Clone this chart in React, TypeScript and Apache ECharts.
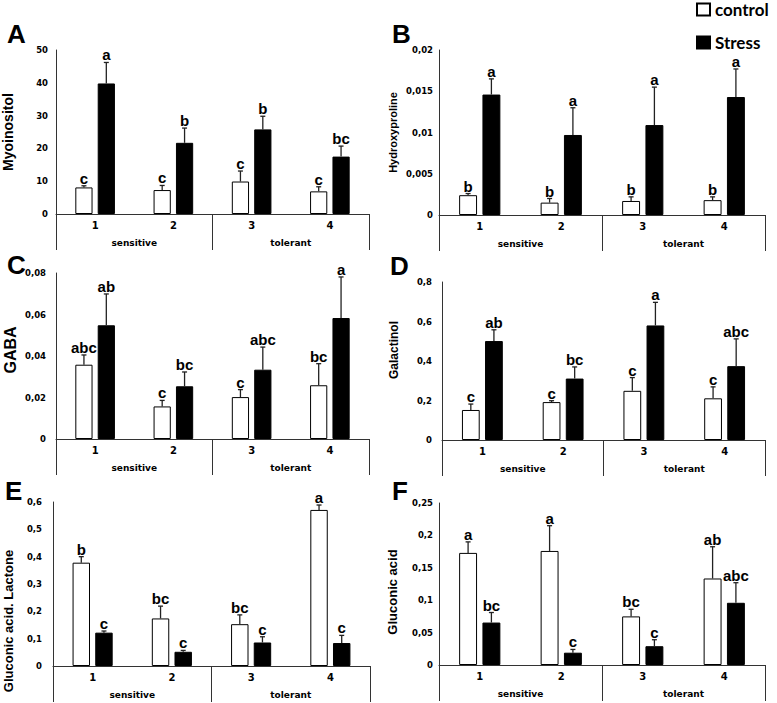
import React, { useEffect, useRef } from "react";
import * as echarts from "echarts";

// ---- categories ----
const genotypes = ["1", "2", "3", "4"];
const groups = ["sensitive", "tolerant"];

// ---- A: Myoinositol ----
const myoControl = [8.1, 7.3, 9.9, 6.9];
const myoControlSd = [0.5, 1.4, 3.2, 1.4];
const myoStress = [39.8, 21.7, 25.8, 17.5];
const myoStressSd = [6.4, 4.5, 4.0, 3.2];
const myoControlLetters = ["c", "c", "c", "c"];
const myoStressLetters = ["a", "b", "b", "bc"];

// ---- B: Hydroxyproline ----
const hypControl = [0.0024, 0.0015, 0.0017, 0.0018];
const hypControlSd = [0.0002, 0.0005, 0.0005, 0.0004];
const hypStress = [0.0146, 0.0097, 0.0109, 0.0143];
const hypStressSd = [0.0019, 0.0033, 0.0046, 0.0034];
const hypControlLetters = ["b", "b", "b", "b"];
const hypStressLetters = ["a", "a", "a", "a"];

// ---- C: GABA ----
const gabaControl = [0.0358, 0.0157, 0.0202, 0.0259];
const gabaControlSd = [0.0047, 0.0029, 0.0036, 0.0104];
const gabaStress = [0.0548, 0.0254, 0.0334, 0.0583];
const gabaStressSd = [0.0151, 0.0069, 0.0109, 0.0198];
const gabaControlLetters = ["abc", "c", "c", "bc"];
const gabaStressLetters = ["ab", "bc", "abc", "a"];

// ---- D: Galactinol ----
const galControl = [0.152, 0.192, 0.249, 0.211];
const galControlSd = [0.03, 0.007, 0.067, 0.058];
const galStress = [0.501, 0.311, 0.58, 0.374];
const galStressSd = [0.057, 0.059, 0.117, 0.138];
const galControlLetters = ["c", "c", "c", "c"];
const galStressLetters = ["ab", "bc", "a", "abc"];

// ---- E: Gluconic acid. Lactone ----
const glcLacControl = [0.378, 0.174, 0.153, 0.571];
const glcLacControlSd = [0.022, 0.045, 0.034, 0.018];
const glcLacStress = [0.122, 0.052, 0.086, 0.084];
const glcLacStressSd = [0.006, 0.005, 0.021, 0.028];
const glcLacControlLetters = ["b", "bc", "bc", "a"];
const glcLacStressLetters = ["c", "c", "c", "c"];

// ---- F: Gluconic acid ----
const glcControl = [0.173, 0.176, 0.075, 0.1335];
const glcControlSd = [0.017, 0.039, 0.011, 0.049];
const glcStress = [0.0655, 0.019, 0.029, 0.096];
const glcStressSd = [0.0155, 0.005, 0.01, 0.031];
const glcControlLetters = ["a", "a", "bc", "ab"];
const glcStressLetters = ["bc", "c", "c", "abc"];

// ---- y-axis scales ----
const yMax = [50, 0.02, 0.08, 0.8, 0.6, 0.25];
const yStep = [10, 0.005, 0.02, 0.2, 0.1, 0.05];
const yNames = ["Myoinositol", "Hydroxyproline", "GABA", "Galactinol", "Gluconic acid. Lactone", "Gluconic acid"];
const panelLetters = ["A", "B", "C", "D", "E", "F"];

const panelData = [
  { c: myoControl, cs: myoControlSd, s: myoStress, ss: myoStressSd, cl: myoControlLetters, sl: myoStressLetters },
  { c: hypControl, cs: hypControlSd, s: hypStress, ss: hypStressSd, cl: hypControlLetters, sl: hypStressLetters },
  { c: gabaControl, cs: gabaControlSd, s: gabaStress, ss: gabaStressSd, cl: gabaControlLetters, sl: gabaStressLetters },
  { c: galControl, cs: galControlSd, s: galStress, ss: galStressSd, cl: galControlLetters, sl: galStressLetters },
  { c: glcLacControl, cs: glcLacControlSd, s: glcLacStress, ss: glcLacStressSd, cl: glcLacControlLetters, sl: glcLacStressLetters },
  { c: glcControl, cs: glcControlSd, s: glcStress, ss: glcStressSd, cl: glcControlLetters, sl: glcStressLetters },
];

// ---- layout (positions / styles) ----
const layout = [
  { left: 56, top: 50, width: 313, height: 164, nameSize: 14, nameGap: 41, labelMargin: 8, namePad: [0, 0, 0, 0], lx: 7, ly: 34 },
  { left: 439, top: 50, width: 326, height: 165, nameSize: 11, nameGap: 41, labelMargin: 6, namePad: [0, 0, 0, 0], lx: 392, ly: 34 },
  { left: 56, top: 273, width: 313, height: 166, nameSize: 16, nameGap: 38, labelMargin: 10, namePad: [0, 0, 0, 12], lx: 7, ly: 265 },
  { left: 442, top: 282, width: 323, height: 158, nameSize: 12, nameGap: 42, labelMargin: 10, namePad: [0, 0, 0, 22], lx: 390, ly: 266 },
  { left: 53, top: 502, width: 317, height: 164, nameSize: 13, nameGap: 38, labelMargin: 11, namePad: [0, 74, 0, 0], lx: 5, ly: 491 },
  { left: 439, top: 503, width: 326, height: 162, nameSize: 13, nameGap: 40, labelMargin: 6, namePad: [0, 16, 0, 0], lx: 392, ly: 491 },
];

const BAR_W = 0.22;
const BAR_GAP = 0.3;
const AXIS_COLOR = "#333";

const fmt = (v: number) => (v === 0 ? "0" : String(parseFloat(v.toPrecision(6))).replace(".", ","));

function makeErr(means: number[], sds: number[], letters: string[], sign: number) {
  return (params: any, api: any) => {
    const i = params.dataIndex;
    const base = api.coord([i, means[i]]);
    const top = api.coord([i, means[i] + sds[i]]);
    const cw = api.size([1, 0])[0];
    const bw = cw * BAR_W;
    const cx = base[0] + (sign * bw * (1 + BAR_GAP)) / 2;
    const ls = { stroke: "#222", lineWidth: 1.3 };
    return {
      type: "group",
      children: [
        { type: "line", shape: { x1: cx, y1: base[1], x2: cx, y2: top[1] }, style: ls },
        { type: "line", shape: { x1: cx - 2.5, y1: top[1], x2: cx + 2.5, y2: top[1] }, style: ls },
        {
          type: "text",
          style: {
            text: letters[i],
            x: cx,
            y: top[1] - 7.5,
            align: "center",
            verticalAlign: "middle",
            lineHeight: 14,
            font: 'bold 15px "Liberation Sans", Arial, sans-serif',
            fill: "#000",
          },
        },
      ],
    };
  };
}

export default function App() {
  const ref = useRef<HTMLDivElement>(null);
  useEffect(() => {
    if (!ref.current) return;
    const chart = echarts.init(ref.current, undefined, { renderer: "svg" });

    const grid: any[] = [];
    const xAxis: any[] = [];
    const yAxis: any[] = [];
    const series: any[] = [];
    const graphic: any[] = [];

    layout.forEach((L, p) => {
      const d = panelData[p];
      grid.push({ left: L.left, top: L.top, width: L.width, height: L.height });
      xAxis.push({
        type: "category",
        gridIndex: p,
        data: genotypes,
        position: "bottom",
        axisLine: { show: true, lineStyle: { color: AXIS_COLOR, width: 1 } },
        axisTick: { show: false },
        axisLabel: { margin: 6, fontFamily: "DejaVu Sans", fontWeight: "bold", fontSize: 10, color: "#000" },
      });
      xAxis.push({
        type: "category",
        gridIndex: p,
        data: groups,
        position: "bottom",
        offset: 0,
        axisLine: { show: false },
        axisTick: { show: true, length: 36, lineStyle: { color: AXIS_COLOR, width: 1 } },
        axisLabel: { margin: 24, fontFamily: "DejaVu Sans", fontWeight: "bold", fontSize: 9, color: "#000" },
      });
      yAxis.push({
        type: "value",
        gridIndex: p,
        min: 0,
        max: yMax[p],
        interval: yStep[p],
        axisLine: { show: true, lineStyle: { color: AXIS_COLOR, width: 1 } },
        axisTick: { show: false },
        splitLine: { show: false },
        axisLabel: {
          formatter: fmt,
          margin: L.labelMargin,
          fontFamily: "DejaVu Sans",
          fontWeight: "bold",
          fontSize: 8.5,
          color: "#000",
        },
        name: yNames[p],
        nameLocation: "middle",
        nameGap: L.nameGap,
        nameTextStyle: {
          fontFamily: "Liberation Sans",
          fontWeight: "bold",
          fontSize: L.nameSize,
          color: "#000",
          padding: L.namePad,
        },
      });
      const xi = p * 2;
      series.push({
        type: "bar",
        name: "control",
        xAxisIndex: xi,
        yAxisIndex: p,
        data: d.c,
        barWidth: BAR_W * 100 + "%",
        barGap: BAR_GAP * 100 + "%",
        itemStyle: { color: "#fff", borderColor: "#000", borderWidth: 1 },
      });
      series.push({
        type: "bar",
        name: "Stress",
        xAxisIndex: xi,
        yAxisIndex: p,
        data: d.s,
        barWidth: BAR_W * 100 + "%",
        barGap: BAR_GAP * 100 + "%",
        itemStyle: { color: "#000", borderColor: "#000", borderWidth: 1 },
      });
      series.push({
        type: "custom",
        name: "control error",
        xAxisIndex: xi,
        yAxisIndex: p,
        z: 5,
        data: d.c.map((v, i) => [i, v]),
        renderItem: makeErr(d.c, d.cs, d.cl, -1),
      });
      series.push({
        type: "custom",
        name: "Stress error",
        xAxisIndex: xi,
        yAxisIndex: p,
        z: 5,
        data: d.s.map((v, i) => [i, v]),
        renderItem: makeErr(d.s, d.ss, d.sl, 1),
      });
      graphic.push({
        type: "text",
        x: L.lx,
        y: L.ly,
        style: {
          text: panelLetters[p],
          font: 'bold 26px "Liberation Sans", Arial, sans-serif',
          fill: "#000",
          align: "left",
          verticalAlign: "middle",
        },
      });
    });

    chart.setOption({
      animation: false,
      backgroundColor: "#fff",
      grid,
      xAxis,
      yAxis,
      series,
      graphic,
      legend: {
        data: ["control", "Stress"],
        orient: "vertical",
        left: 696,
        top: 1,
        padding: 0,
        itemWidth: 13,
        itemHeight: 12,
        itemGap: 16,
        selectedMode: false,
        icon: "rect",
        textStyle: { fontFamily: "Lato", fontWeight: "bold", fontSize: 17, color: "#000", lineHeight: 16 },
      },
    });
    return () => chart.dispose();
  }, []);
  return <div ref={ref} style={{ position: "fixed", left: 0, top: 0, width: 777, height: 703, background: "#fff" }} />;
}
